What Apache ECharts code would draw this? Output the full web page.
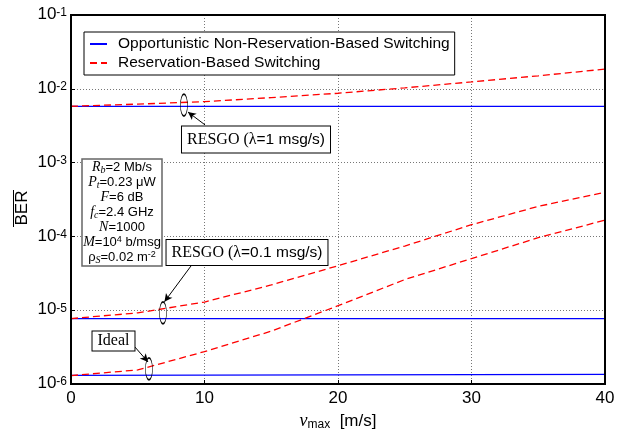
<!DOCTYPE html>
<html><head><meta charset="utf-8">
<script src="https://cdn.jsdelivr.net/npm/echarts@6/dist/echarts.min.js"></script>
<style>html,body{margin:0;padding:0;background:#fff}#c{width:631px;height:431px}</style>
</head><body><div id="c"></div>
<script>
const vmax = [0, 5, 10, 15, 20, 25, 30, 35, 40];
const resHigh = [5.8e-3, 6.2e-3, 6.7e-3, 7.6e-3, 8.7e-3, 1.03e-2, 1.24e-2, 1.5e-2, 1.85e-2];
const resMid = [7.7e-6, 9.2e-6, 1.29e-5, 2.2e-5, 4.0e-5, 7.4e-5, 1.44e-4, 2.55e-4, 3.96e-4];
const resLow = [1.3e-6, 1.55e-6, 2.75e-6, 5.2e-6, 1.15e-5, 2.6e-5, 5.0e-5, 9.6e-5, 1.66e-4];
const oppX = [0, 40];
const oppHigh = [5.78e-3, 5.78e-3];
const oppMid = [7.7e-6, 7.7e-6];
const oppLow = [1.31e-6, 1.35e-6];
const xTicks = [0, 10, 20, 30, 40];
const yExp = [-6, -5, -4, -3, -2, -1];
// annotation anchors (data space): ellipse centres and arrow ends
const ellipses = [[8.46, 6.0e-3], [6.89, 9.2e-6], [5.84, 1.6e-6]];
const arrows = [
  [[10.04, 3.24e-3], [8.76, 4.85e-3]],
  [[9.04, 4.09e-5], [7.0, 1.3e-5]],
  [[4.79, 3.17e-6], [5.77, 1.99e-6]]
];
const NAME_OPP = 'Opportunistic Non-Reservation-Based Switching';
const NAME_RES = 'Reservation-Based Switching';

const zip = (xs, ys) => xs.map((x, i) => [x, ys[i]]);
const blueStyle = { color: '#0000ff', width: 1.3, type: 'solid' };
const redStyle = { color: '#ff0000', width: 1.3, type: [7, 4] };
function lineSeries(name, data, ls) {
  return { name, type: 'line', data, symbol: 'none', showSymbol: false, lineStyle: ls, itemStyle: { color: ls.color }, z: 3, animation: false };
}
const sans = 'Liberation Sans';
const serif = 'Liberation Serif';

const chart = echarts.init(document.getElementById('c'), null, { renderer: 'canvas' });
const series = [
  lineSeries(NAME_OPP, zip(oppX, oppHigh), blueStyle),
  lineSeries(NAME_RES, zip(vmax, resHigh), redStyle),
  lineSeries(NAME_OPP, zip(oppX, oppMid), blueStyle),
  lineSeries(NAME_RES, zip(vmax, resMid), redStyle),
  lineSeries(NAME_OPP, zip(oppX, oppLow), blueStyle),
  lineSeries(NAME_RES, zip(vmax, resLow), redStyle)
];
series[1].markPoint = {
  symbol: 'circle', symbolSize: [7, 22], silent: true, animation: false,
  itemStyle: { color: 'rgba(0,0,0,0)', borderColor: '#000', borderWidth: 1 },
  label: { show: false },
  data: ellipses.map(c => ({ coord: c }))
};
series[1].markLine = {
  silent: true, animation: false, symbol: ['none', 'arrow'], symbolSize: [6, 8],
  lineStyle: { color: '#000', width: 1, type: 'solid' }, label: { show: false },
  data: arrows.map(a => [{ coord: a[0] }, { coord: a[1] }])
};

chart.setOption({
  animation: false,
  backgroundColor: '#fff',
  grid: { left: 71, right: 26, top: 15, bottom: 47, outerBoundsMode: 'none', containLabel: false,
    show: true, borderColor: '#000', borderWidth: 2, backgroundColor: 'transparent', z: 5 },
  legend: {
    left: 84, top: 32, orient: 'vertical', itemGap: 3, itemWidth: 17, itemHeight: 14,
    padding: [4, 5, 4, 5], backgroundColor: '#fff', borderColor: '#000', borderWidth: 1,
    itemStyle: { opacity: 0 },
    textStyle: { fontFamily: sans, fontSize: 15.5, color: '#000', padding: [0, 0, 0, 6], lineHeight: 15 },
    data: [NAME_OPP, NAME_RES], selectedMode: false
  },
  xAxis: {
    type: 'value', min: xTicks[0], max: xTicks[xTicks.length - 1], interval: 10,
    axisLine: { show: false }, axisTick: { inside: true, length: 4, lineStyle: { color: '#000' } },
    axisLabel: { fontFamily: sans, fontSize: 17, color: '#000', margin: 6 },
    splitLine: { show: true, lineStyle: { color: '#777', type: [1, 2], width: 1 } },
    name: '{v|v}{s|max}{n|  [m/s]}', nameLocation: 'middle', nameGap: 21,
    nameTextStyle: { rich: {
      v: { fontFamily: serif, fontStyle: 'italic', fontSize: 18, color: '#000', lineHeight: 20, verticalAlign: 'middle' },
      s: { fontFamily: sans, fontSize: 12, color: '#000', lineHeight: 10, verticalAlign: 'bottom' },
      n: { fontFamily: sans, fontSize: 17, color: '#000', lineHeight: 20, verticalAlign: 'middle' }
    } }
  },
  yAxis: {
    type: 'log', logBase: 10, min: Math.pow(10, yExp[0]), max: Math.pow(10, yExp[yExp.length - 1]),
    axisLine: { show: false }, axisTick: { inside: true, length: 4, lineStyle: { color: '#000' } },
    minorTick: { show: false },
    splitLine: { show: true, lineStyle: { color: '#777', type: [1, 2], width: 1 } },
    axisLabel: {
      margin: 4,
      formatter: v => '{b|10}{s|' + Math.round(Math.log10(v)) + '}',
      rich: {
        b: { fontFamily: sans, fontSize: 17, color: '#000', lineHeight: 16, verticalAlign: 'bottom', padding: [10, 0, 0, 0] },
        s: { fontFamily: sans, fontSize: 12, color: '#000', lineHeight: 12, verticalAlign: 'top' }
      }
    }
  },
  graphic: [
    { type: 'text', x: 22, y: 208, rotation: Math.PI / 2, z: 10,
      style: { text: 'BER', fontFamily: sans, fontSize: 17, fill: '#000', align: 'center', verticalAlign: 'middle' } },
    { type: 'line', shape: { x1: 13.5, y1: 190, x2: 13.5, y2: 227 }, style: { stroke: '#000', lineWidth: 1 }, z: 10 },
    { type: 'text', x: 256, y: 139.5, z: 10,
      style: { text: '{a|RESGO (λ}{b|=1 msg/s)}', align: 'center', verticalAlign: 'middle',
        backgroundColor: '#fff', borderColor: '#000', borderWidth: 1, padding: [5, 5, 5, 5],
        rich: { a: { fontFamily: serif, fontSize: 16, fill: '#000' }, b: { fontFamily: sans, fontSize: 15.5, fill: '#000' } } } },
    { type: 'text', x: 247, y: 252.5, z: 10,
      style: { text: '{a|RESGO (λ}{b|=0.1 msg/s)}', align: 'center', verticalAlign: 'middle',
        backgroundColor: '#fff', borderColor: '#000', borderWidth: 1, padding: [5, 5, 4, 5],
        rich: { a: { fontFamily: serif, fontSize: 16, fill: '#000' }, b: { fontFamily: sans, fontSize: 15.5, fill: '#000' } } } },
    { type: 'text', x: 113.5, y: 341, z: 10,
      style: { text: 'Ideal', fontFamily: serif, fontSize: 16, fill: '#000', align: 'center', verticalAlign: 'middle',
        backgroundColor: '#fff', borderColor: '#000', borderWidth: 1, padding: [2, 5, 1, 5] } },
    { type: 'rect', shape: { x: 82, y: 159, width: 80, height: 107 }, style: { fill: '#fff', stroke: '#666', lineWidth: 1.5 }, z: 10 },
    { type: 'text', x: 122, y: 212.5, z: 11,
      style: {
        text: [
          '{i|R}{ib|b}{n|=2 Mb/s}',
          '{i|P}{ib|t}{n|=0.23 μW}',
          '{i|F}{n|=6 dB}',
          '{i|f}{ib|c}{n|=2.4 GHz}',
          '{i|N}{n|=1000}',
          '{i|M}{n|=10}{sp|4}{n| b/msg}',
          '{n|ρ}{ib|S}{n|=0.02 m}{sp|-2}'
        ].join('\n'),
        align: 'center', verticalAlign: 'middle',
        rich: {
          i: { fontFamily: serif, fontStyle: 'italic', fontSize: 14, fill: '#000', lineHeight: 15 },
          ib: { fontFamily: serif, fontStyle: 'italic', fontSize: 10, fill: '#000', lineHeight: 9, verticalAlign: 'bottom' },
          n: { fontFamily: sans, fontSize: 13, fill: '#000', lineHeight: 15 },
          sp: { fontFamily: sans, fontSize: 9, fill: '#000', lineHeight: 8, verticalAlign: 'top' }
        }
      } }
  ],
  series
});
</script></body></html>
